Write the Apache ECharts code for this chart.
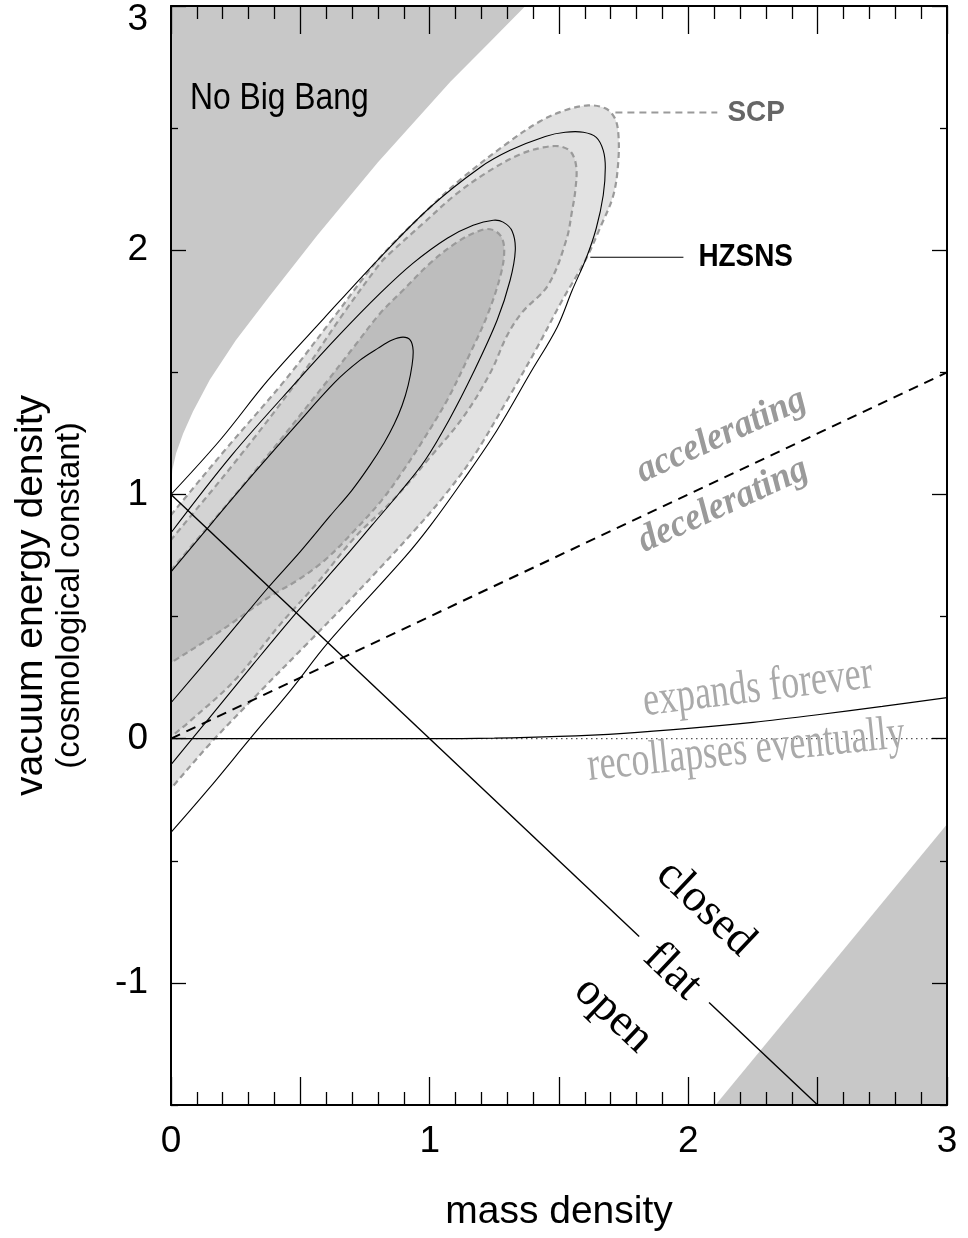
<!DOCTYPE html>
<html>
<head>
<meta charset="utf-8">
<script src="https://cdn.jsdelivr.net/npm/echarts@6/dist/echarts.min.js"></script>
<style>
  html, body { margin: 0; padding: 0; background: #fff; }
  #chart { width: 968px; height: 1238px; }
</style>
</head>
<body>
<div id="chart"></div>
<script>
// ---- axis labels and tick positions ----
const xLabels = [0, 1, 2, 3];
const yLabels = [-1, 0, 1, 2, 3];
const yHalfTicks = [-1.5, -0.5, 0.5, 1.5, 2.5];

// ---- confidence contours [mass density, vacuum energy density] ----
const scpOuter = [[-0.15,0.725],[0,0.916],[0.209,1.182],[0.441,1.468],[0.627,1.722],[0.809,1.971],[1.002,2.176],[1.130,2.299],[1.300,2.438],[1.427,2.528],[1.524,2.573],[1.613,2.593],[1.679,2.581],[1.714,2.544],[1.729,2.483],[1.729,2.360],[1.710,2.225],[1.663,2.102],[1.602,1.959],[1.513,1.796],[1.416,1.603],[1.300,1.387],[1.168,1.153],[1.056,0.994],[0.940,0.851],[0.816,0.708],[0.677,0.552],[0.530,0.393],[0.325,0.172],[0.155,-0.016],[0,-0.204],[-0.15,-0.386]];
const scpMiddle = [[-0.15,0.621],[0,0.814],[0.248,1.133],[0.491,1.468],[0.654,1.722],[0.809,1.947],[0.847,1.988],[0.975,2.110],[1.106,2.233],[1.234,2.327],[1.350,2.393],[1.439,2.421],[1.505,2.425],[1.547,2.401],[1.567,2.339],[1.563,2.245],[1.551,2.164],[1.528,2.041],[1.458,1.857],[1.358,1.746],[1.300,1.652],[1.234,1.497],[1.130,1.317],[1.002,1.153],[0.859,0.978],[0.712,0.826],[0.569,0.642],[0.414,0.458],[0.248,0.241],[0.066,0.065],[0,0.008],[-0.15,-0.121]];
const scpInner = [[-0.15,0.5],[0,0.69],[0.32,1.09],[0.607,1.468],[0.712,1.611],[0.809,1.742],[0.897,1.836],[1.002,1.947],[1.106,2.033],[1.188,2.078],[1.234,2.086],[1.273,2.061],[1.288,2.008],[1.277,1.910],[1.226,1.742],[1.157,1.579],[1.068,1.387],[0.975,1.223],[0.894,1.092],[0.816,0.978],[0.712,0.855],[0.596,0.732],[0.491,0.650],[0.375,0.577],[0.182,0.434],[0,0.311],[-0.15,0.21]];

const hzsnsOuter = [[0,1.00],[0.190,1.223],[0.375,1.468],[0.592,1.722],[0.809,1.971],[1.002,2.176],[1.195,2.339],[1.311,2.409],[1.447,2.466],[1.524,2.483],[1.594,2.483],[1.644,2.462],[1.671,2.409],[1.679,2.339],[1.671,2.225],[1.644,2.090],[1.605,1.967],[1.551,1.836],[1.493,1.685],[1.389,1.497],[1.261,1.264],[1.130,1.059],[1.002,0.871],[0.905,0.744],[0.607,0.393],[0.464,0.200],[0.309,0.004],[0.143,-0.209],[0,-0.384]];
const hzsnsMiddle = [[0,0.843],[0.236,1.162],[0.491,1.468],[0.650,1.652],[0.809,1.824],[0.936,1.947],[1.068,2.049],[1.168,2.102],[1.246,2.123],[1.284,2.115],[1.319,2.078],[1.331,2.000],[1.311,1.877],[1.261,1.714],[1.168,1.497],[1.075,1.305],[0.983,1.141],[0.886,1.010],[0.778,0.875],[0.673,0.744],[0.484,0.515],[0.317,0.303],[0.143,0.078],[0,-0.106]];
const hzsnsInner = [[0,0.683],[0.162,0.888],[0.325,1.092],[0.484,1.284],[0.634,1.460],[0.731,1.550],[0.801,1.599],[0.855,1.632],[0.897,1.644],[0.925,1.632],[0.936,1.591],[0.932,1.530],[0.917,1.448],[0.894,1.366],[0.863,1.288],[0.824,1.211],[0.770,1.121],[0.700,1.018],[0.615,0.912],[0.499,0.765],[0.375,0.618],[0.190,0.384],[0,0.147]];

// ---- excluded regions ----
const noBigBang = [[0,1.02],[0.005,1.1],[0.02,1.17],[0.047,1.25],[0.085,1.34],[0.15,1.47],[0.25,1.63],[0.38,1.81],[0.565,2.06],[0.8,2.36],[1.08,2.69],[1.23,2.85],[1.37,3.0],[0,3.0]];
const lowerCorner = [[2.105,-1.5],[3,-0.35],[3,-1.5]];

// ---- boundary lines ----
const flatUpper = [[0,1],[1.81,-0.81]];
const flatLower = [[2.08,-1.08],[2.5,-1.5]];
const decelBoundary = [[0,0],[3,1.5]];
const expandsBoundary = [[0,0],[1,0],[1.25,0.002],[1.5,0.009],[1.75,0.022],[2,0.042],[2.25,0.067],[2.5,0.098],[2.75,0.132],[3,0.168]];
const zeroLine = [[0,0],[3,0]];
const scpLeader = [[1.718,2.564],[2.112,2.564]];
const hzsnsLeader = [[1.621,1.971],[1.981,1.971]];

// ---- text annotations (anchor in data units, style separately) ----
const SANS = "'Liberation Sans', Arial, Helvetica, sans-serif";
const SERIF = "'Liberation Serif', 'Times New Roman', serif";
const notes = [
  { text: 'No Big Bang', at: [0.0735, 2.618], align: 'left', size: 37, family: SANS, color: '#000', rot: 0, sx: 0.86 },
  { text: 'SCP', at: [2.151, 2.564], align: 'left', size: 30, weight: 'bold', family: SANS, color: '#666', rot: 0, sx: 0.93 },
  { text: 'HZSNS', at: [2.039, 1.971], align: 'left', size: 31, weight: 'bold', family: SANS, color: '#000', rot: 0, sx: 0.9 },
  { text: 'accelerating', at: [2.128, 1.24], size: 38, weight: 'bold', fstyle: 'italic', family: SERIF, color: '#9a9a9a', rot: 24.5, sx: 0.95 },
  { text: 'decelerating', at: [2.135, 0.955], size: 38, weight: 'bold', fstyle: 'italic', family: SERIF, color: '#9a9a9a', rot: 24.5, sx: 0.95 },
  { text: 'expands forever', at: [2.269, 0.205], size: 48, family: SERIF, color: '#aaaaaa', rot: 7, sx: 0.75 },
  { text: 'recollapses eventually', at: [2.224, -0.05], size: 48, family: SERIF, color: '#aaaaaa', rot: 6, sx: 0.75 },
  { text: 'closed', at: [2.066, -0.695], size: 46, family: SERIF, color: '#000', rot: -43.4 },
  { text: 'flat', at: [1.938, -0.953], size: 46, family: SERIF, color: '#000', rot: -43.4 },
  { text: 'open', at: [1.710, -1.131], size: 46, family: SERIF, color: '#000', rot: -43.4 }
];

function areaSeries(name, pts, fill, z, smooth) {
  return {
    name, type: 'custom', coordinateSystem: 'cartesian2d', clip: true, silent: true, z,
    data: pts, encode: { x: 0, y: 1 },
    renderItem(params, api) {
      if (params.dataIndex !== 0) return null;
      return { type: 'polygon', shape: { points: pts.map(p => api.coord(p)), smooth: smooth }, style: { fill } };
    }
  };
}

function curveSeries(name, pts, stroke, width, dash, z) {
  return {
    name, type: 'custom', coordinateSystem: 'cartesian2d', clip: true, silent: true, z,
    data: pts, encode: { x: 0, y: 1 },
    renderItem(params, api) {
      if (params.dataIndex !== 0) return null;
      return {
        type: 'polyline',
        shape: { points: pts.map(p => api.coord(p)), smooth: 0.35 },
        style: { fill: null, stroke, lineWidth: width, lineDash: dash || null }
      };
    }
  };
}

function lineSeries(name, pts, color, width, type, z, smooth) {
  return {
    name, type: 'line', data: pts, symbol: 'none', showSymbol: false, silent: true, z,
    smooth: smooth || false, clip: true,
    lineStyle: { color, width, type: type || 'solid' }
  };
}

const tickStyle = { color: '#000', width: 1.3 };

function xAxisDef(position, showLabels) {
  return {
    type: 'value', position, min: 0, max: 3, interval: 0.5, z: 10,
    axisLine: { show: true, onZero: false, lineStyle: { color: '#000', width: 2 } },
    axisTick: { show: true, inside: true, length: 28, lineStyle: tickStyle },
    minorTick: { show: true, splitNumber: 5, length: 13, lineStyle: tickStyle },
    splitLine: { show: false }, minorSplitLine: { show: false },
    axisLabel: {
      show: showLabels, customValues: xLabels, margin: 18,
      fontSize: 37, fontFamily: SANS, color: '#000',
      formatter: v => (Math.abs(v - Math.round(v)) < 1e-9 ? String(Math.round(v)) : '')
    }
  };
}

function yAxisDef(position, values, len, showLine, showLabels) {
  return {
    type: 'value', position, min: -1.5, max: 3, interval: 0.5, z: 10,
    axisLine: { show: showLine, onZero: false, lineStyle: { color: '#000', width: 2 } },
    axisTick: { show: true, inside: true, length: len, customValues: values, lineStyle: tickStyle },
    splitLine: { show: false },
    axisLabel: showLabels ? {
      show: true, customValues: yLabels, margin: 23,
      fontSize: 37, fontFamily: SANS, color: '#000',
      formatter: v => (v === 3 ? '{t|3}' : String(v)),
      rich: { t: { fontSize: 37, fontFamily: SANS, color: '#000', padding: [28, 0, 0, 0] } }
    } : { show: false }
  };
}

const xBottom = xAxisDef('bottom', true);
xBottom.name = 'mass density';
xBottom.nameLocation = 'middle';
xBottom.nameGap = 88;
xBottom.nameTextStyle = { fontSize: 39, fontFamily: SANS, color: '#000' };

const yLeft = yAxisDef('left', yLabels, 15, true, true);
yLeft.name = '{a|vacuum energy density}\n{b|(cosmological constant)}';
yLeft.nameLocation = 'middle';
yLeft.nameRotate = 90;
yLeft.nameGap = 82;
yLeft.nameTextStyle = {
  color: '#000', fontFamily: SANS, padding: [0, 80, 0, 0],
  rich: {
    a: { fontSize: 39, lineHeight: 40, fontFamily: SANS, color: '#000' },
    b: { fontSize: 33, lineHeight: 38, fontFamily: SANS, color: '#000' }
  }
};

const option = {
  animation: false,
  backgroundColor: '#fff',
  grid: { left: 171, right: 21, top: 6, bottom: 133, containLabel: false },
  xAxis: [xBottom, xAxisDef('top', false)],
  yAxis: [
    yLeft,
    yAxisDef('left', yHalfTicks, 7, false, false),
    yAxisDef('right', yLabels, 15, true, false),
    yAxisDef('right', yHalfTicks, 7, false, false)
  ],
  series: [
    areaSeries('SCP outer', scpOuter, '#e2e2e2', 1, 0.35),
    areaSeries('SCP middle', scpMiddle, '#d3d3d3', 1, 0.35),
    areaSeries('SCP inner', scpInner, '#bdbdbd', 1, 0.35),
    areaSeries('No Big Bang', noBigBang, '#c8c8c8', 1, 0),
    areaSeries('lower corner', lowerCorner, '#c8c8c8', 1, 0),
    curveSeries('SCP outer edge', scpOuter, '#9a9a9a', 2.2, [6, 4], 3),
    curveSeries('SCP middle edge', scpMiddle, '#9a9a9a', 2.2, [6, 4], 3),
    curveSeries('SCP inner edge', scpInner, '#9a9a9a', 2.2, [6, 4], 3),
    curveSeries('HZSNS outer', hzsnsOuter, '#000', 1.1, null, 4),
    curveSeries('HZSNS middle', hzsnsMiddle, '#000', 1.1, null, 4),
    curveSeries('HZSNS inner', hzsnsInner, '#000', 1.1, null, 4),
    lineSeries('zero', zeroLine, '#555', 1.2, [1.5, 3.5], 4),
    lineSeries('expands forever', expandsBoundary, '#000', 1.2, 'solid', 4, 0.3),
    lineSeries('decelerating', decelBoundary, '#000', 2, [10, 7], 4),
    lineSeries('flat', flatUpper, '#000', 1.4, 'solid', 4),
    lineSeries('flat', flatLower, '#000', 1.4, 'solid', 4),
    lineSeries('SCP leader', scpLeader, '#9a9a9a', 2.2, [7, 5], 4),
    lineSeries('HZSNS leader', hzsnsLeader, '#000', 1.1, 'solid', 4),
    {
      name: 'notes', type: 'custom', coordinateSystem: 'cartesian2d', clip: false, silent: true, z: 6,
      data: notes.map(n => n.at), encode: { x: 0, y: 1 },
      renderItem(params, api) {
        const n = notes[params.dataIndex];
        const p = api.coord([api.value(0), api.value(1)]);
        return {
          type: 'text', x: p[0], y: p[1],
          rotation: (n.rot || 0) * Math.PI / 180,
          scaleX: n.sx || 1, scaleY: 1,
          style: {
            text: n.text,
            fill: n.color,
            font: (n.fstyle || 'normal') + ' ' + (n.weight || 'normal') + ' ' + n.size + 'px ' + n.family,
            align: n.align || 'center',
            verticalAlign: 'middle'
          }
        };
      }
    }
  ]
};

const chart = echarts.init(document.getElementById('chart'), null, { renderer: 'canvas' });
chart.setOption(option);
</script>
</body>
</html>
